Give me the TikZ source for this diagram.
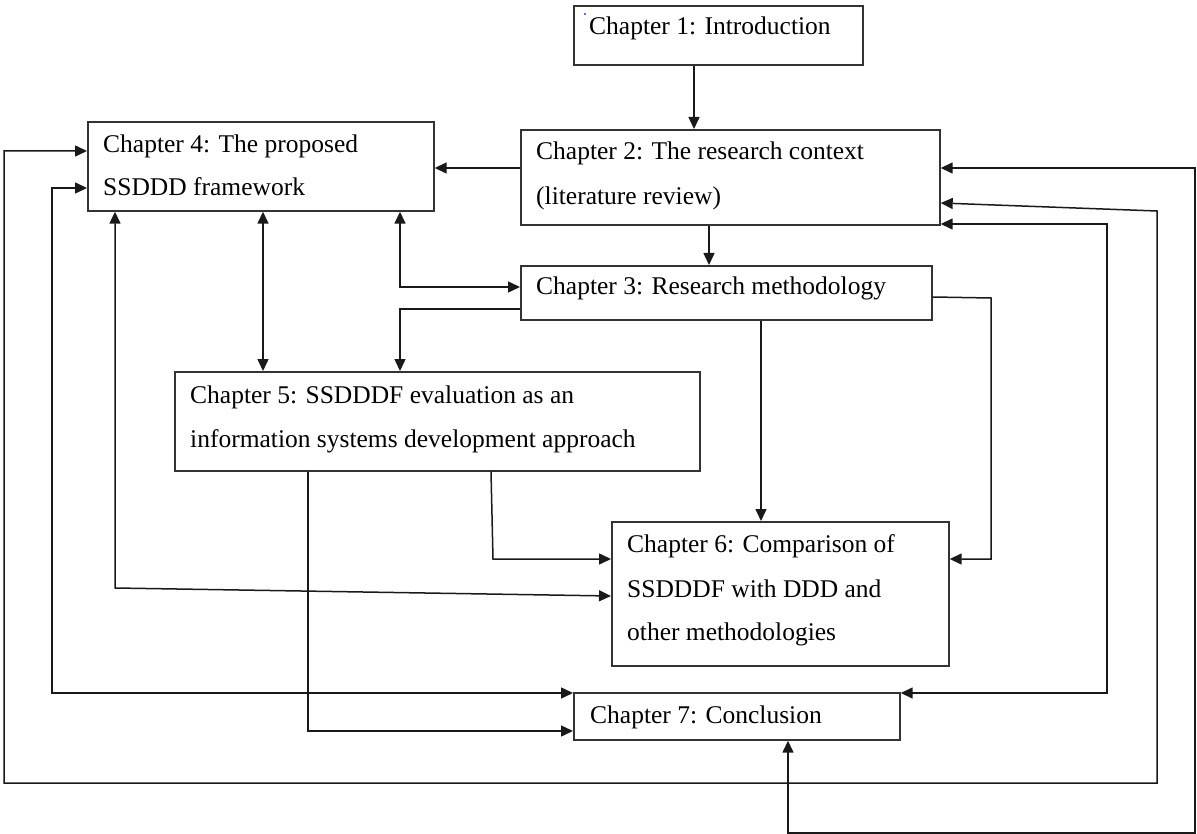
\documentclass[tikz,border=0pt]{standalone}
\usepackage{fontspec}
\setmainfont{Liberation Serif}
\usetikzlibrary{arrows.meta}
\begin{document}
\begin{tikzpicture}[x=1pt,y=-1pt,
  chapbox/.style={draw=black!80,line width=1.7pt,inner sep=0pt,anchor=north west},
  chaptext/.style={inner sep=0pt,anchor=base west,font=\fontsize{25.5}{30}\selectfont},
  link/.style={draw=black!90,line width=1.5pt},
  tip/.tip={Triangle[length=12pt,width=11pt]},
  fwd/.style={link,-tip},
  both/.style={link,tip-tip}]
\useasboundingbox (0,0) rectangle (1197,834);

% chapter boxes
\node[chapbox,minimum width=289pt,minimum height=59pt] (c1) at (573,5) {};
\node[chapbox,minimum width=419pt,minimum height=95pt] (c2) at (520,129) {};
\node[chapbox,minimum width=411pt,minimum height=54pt] (c3) at (520,265) {};
\node[chapbox,minimum width=346pt,minimum height=89pt] (c4) at (87,121) {};
\node[chapbox,minimum width=525pt,minimum height=99pt] (c5) at (174,371) {};
\node[chapbox,minimum width=337pt,minimum height=144pt] (c6) at (611,521) {};
\node[chapbox,minimum width=326pt,minimum height=47pt] (c7) at (573,692) {};

% chapter titles
\fill[blue!80] (585,14) circle (1.2pt);
\node[chaptext] (t1) at (589,35) {Chapter 1: Introduction};
\node[chaptext] (t2a) at (536,160) {Chapter 2: The research context};
\node[chaptext] (t2b) at (536,205) {(literature review)};
\node[chaptext] (t3) at (536,295) {Chapter 3: Research methodology};
\node[chaptext] (t4a) at (103,153) {Chapter 4: The proposed};
\node[chaptext] (t4b) at (103,196) {SSDDD framework};
\node[chaptext] (t5a) at (190,403) {Chapter 5: SSDDDF evaluation as an};
\node[chaptext] (t5b) at (190,447) {information systems development approach};
\node[chaptext] (t6a) at (627,552) {Chapter 6: Comparison of};
\node[chaptext] (t6b) at (627,597) {SSDDDF with DDD and};
\node[chaptext] (t6c) at (627,640) {other methodologies};
\node[chaptext] (t7) at (590,723) {Chapter 7: Conclusion};

% connectors
\draw[fwd] (c1.south -| 694,0) -- (c2.north -| 694,0);
\draw[fwd] (c2.west |- 0,168) -- (c4.east |- 0,168);
\draw[fwd] (c2.south -| 709,0) -- (c3.north -| 709,0);
\draw[both] (c4.south -| 400,0) |- (c3.west |- 0,287);
\draw[fwd] (c3.west |- 0,309) -| (c5.north -| 400,0);
\draw[both] (c4.south -| 263,0) -- (c5.north -| 263,0);
\draw[fwd] (c3.south -| 761,0) -- (c6.north -| 761,0);
\draw[fwd] (c3.east |- 0,297) -- (991,298) |- (c6.east |- 0,559);
\draw[fwd] (c5.south -| 491,0) -- (493,559) -- (c6.west |- 0,559);
\draw[both] (c4.south -| 115,0) -- (115,588) -- (c6.west |- 0,596);
\draw[fwd] (c5.south -| 308,0) |- (c7.west |- 0,731);
\draw[both] (c4.west |- 0,188) -- (52,188) -- (52,693) -- (c7.west |- 0,693);
\draw[both] (c4.west |- 0,151) -- (4,151) -- (4,783) -- (1157,783) -- (1157,211) -- (c2.east |- 0,203);
\draw[both] (c7.east |- 0,693) -- (1107,693) -- (1107,224) -- (c2.east |- 0,224);
\draw[both] (c7.south -| 788,0) -- (788,833) -- (1195,833) -- (1195,168) -- (c2.east |- 0,168);
\end{tikzpicture}
\end{document}
